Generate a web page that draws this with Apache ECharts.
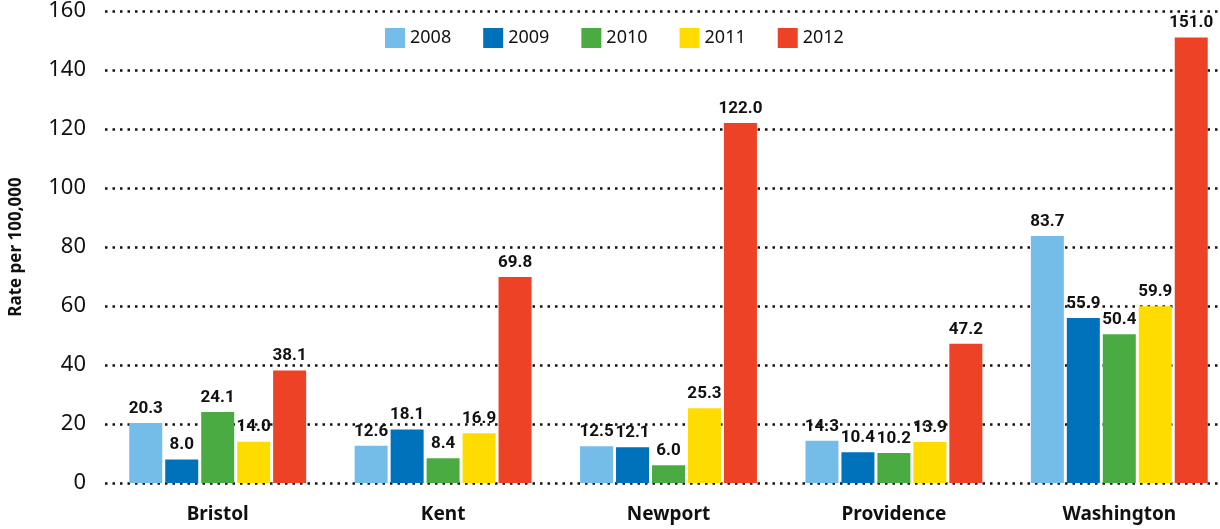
<!DOCTYPE html>
<html>
<head>
<meta charset="utf-8">
<script src="https://cdn.jsdelivr.net/npm/echarts@6/dist/echarts.min.js"></script>
<style>
  html, body { margin: 0; padding: 0; background: #fff; }
  #chart { width: 1220px; height: 529px; }
</style>
</head>
<body>
<div id="chart"></div>
<script>
var counties = ['Bristol', 'Kent', 'Newport', 'Providence', 'Washington'];
var years = ['2008', '2009', '2010', '2011', '2012'];
var colors = ['#74bde8', '#0071bb', '#4bab43', '#ffdc00', '#ee4226'];
var yTicks = [0, 20, 40, 60, 80, 100, 120, 140, 160];

var rate2008 = [20.3, 12.6, 12.5, 14.3, 83.7];
var rate2009 = [8.0, 18.1, 12.1, 10.4, 55.9];
var rate2010 = [24.1, 8.4, 6.0, 10.2, 50.4];
var rate2011 = [14.0, 16.9, 25.3, 13.9, 59.9];
var rate2012 = [38.1, 69.8, 122.0, 47.2, 151.0];

var allRates = [rate2008, rate2009, rate2010, rate2011, rate2012];

var chart = echarts.init(document.getElementById('chart'));

// one bar series per year
var series = years.map(function (y, i) {
  return {
    name: y,
    type: 'bar',
    barWidth: 33,
    barGap: '9%',
    itemStyle: { color: colors[i] },
    label: {
      show: true,
      position: 'top',
      distance: 6,
      color: '#111',
      fontFamily: 'Roboto',
      fontWeight: 'bold',
      fontSize: 17,
      formatter: function (p) { return p.value.toFixed(1); }
    },
    data: allRates[i]
  };
});

chart.setOption({
  animation: false,
  textStyle: { fontFamily: 'Noto Sans' },
  legend: {
    top: 23,
    left: 380,
    itemWidth: 20,
    itemHeight: 20,
    itemGap: 32,
    icon: 'rect',
    textStyle: { fontSize: 18, color: '#111', fontFamily: 'Noto Sans' },
    data: years
  },
  grid: {
    left: 105,
    top: 11,
    width: 1127,
    bottom: 46,
    outerBoundsMode: 'none',
    containLabel: false
  },
  xAxis: {
    type: 'category',
    data: counties,
    axisLine: { show: false },
    axisTick: { show: false },
    axisLabel: {
      margin: 22,
      color: '#111',
      fontFamily: 'Noto Sans',
      fontWeight: 'bold',
      fontSize: 19
    }
  },
  yAxis: {
    type: 'value',
    min: yTicks[0],
    max: yTicks[yTicks.length - 1],
    interval: 20,
    name: 'Rate per 100,000',
    nameLocation: 'middle',
    nameGap: 80,
    nameRotate: 90,
    nameTextStyle: {
      color: '#111',
      fontFamily: 'Noto Sans',
      fontWeight: 'bold',
      fontSize: 17
    },
    axisLine: { show: false },
    axisTick: { show: false },
    axisLabel: {
      margin: 19,
      color: '#111',
      fontFamily: 'Noto Sans',
      fontSize: 22
    },
    splitLine: {
      show: true,
      lineStyle: { color: '#111', width: 2.5, type: [2.5, 5] }
    }
  },
  series: series
});
</script>
</body>
</html>
